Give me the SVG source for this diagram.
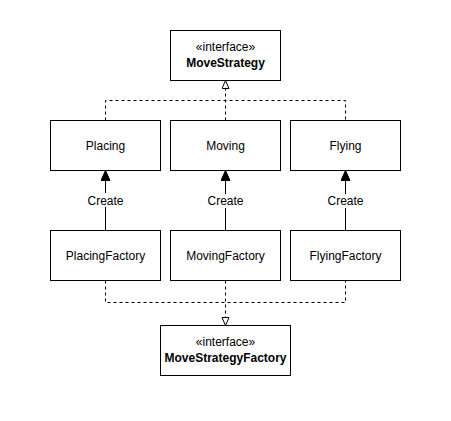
<svg xmlns="http://www.w3.org/2000/svg" width="451" height="421" viewBox="0 0 451 421">
<defs>
<style>
.box{fill:#fff;stroke:#000;stroke-width:1}
.t{font-family:"Liberation Sans",Arial,sans-serif;font-size:12px;fill:#000;text-anchor:middle}
.b{font-weight:bold}
.dash{fill:none;stroke:#000;stroke-width:1;stroke-dasharray:3 3}
.solid{fill:none;stroke:#000;stroke-width:1}
.lbl{fill:#fff}
</style>
<marker id="hollow" markerWidth="10" markerHeight="10" refX="9" refY="4" orient="auto" markerUnits="userSpaceOnUse">
<path d="M1,0.5 L9,4 L1,7.5 Z" fill="#fff" stroke="#000" stroke-width="1"/>
</marker>
<marker id="filled" markerWidth="12" markerHeight="12" refX="10" refY="4.5" orient="auto" markerUnits="userSpaceOnUse">
<path d="M0,0 L10,4.5 L0,9 Z" fill="#000" stroke="#000" stroke-width="1"/>
</marker>
</defs>
<rect width="451" height="421" fill="#fff"/>
<g id="connectors">
<path class="dash" d="M105.5,120.5 V100.5 H345.5 V120.5"/>
<path class="dash" d="M225.5,120.5 V80.5" marker-end="url(#hollow)"/>
<path class="dash" d="M105.5,280.5 V302.5 H345.5 V280.5"/>
<path class="dash" d="M225.5,280.5 V325.5" marker-end="url(#hollow)"/>
<path class="solid" d="M105.5,230.5 V170.5" marker-end="url(#filled)"/>
<path class="solid" d="M225.5,230.5 V170.5" marker-end="url(#filled)"/>
<path class="solid" d="M345.5,230.5 V170.5" marker-end="url(#filled)"/>
<rect class="lbl" x="86" y="193" width="39" height="14"/>
<rect class="lbl" x="206" y="194" width="39" height="14"/>
<rect class="lbl" x="326" y="194" width="39" height="14"/>
<text class="t" x="105.5" y="204.5">Create</text>
<text class="t" x="225.5" y="205">Create</text>
<text class="t" x="345.5" y="205">Create</text>
</g>
<g id="MoveStrategy">
<rect class="box" x="170.5" y="30.5" width="110" height="50"/>
<text class="t" x="225.5" y="51">«interface»</text>
<text class="t b" x="225.5" y="67">MoveStrategy</text>
</g>
<g id="Placing">
<rect class="box" x="50.5" y="120.5" width="110" height="50"/>
<text class="t" x="105.5" y="149.5">Placing</text>
</g>
<g id="Moving">
<rect class="box" x="170.5" y="120.5" width="110" height="50"/>
<text class="t" x="225.5" y="149.5">Moving</text>
</g>
<g id="Flying">
<rect class="box" x="290.5" y="120.5" width="110" height="50"/>
<text class="t" x="345.5" y="149.5">Flying</text>
</g>
<g id="PlacingFactory">
<rect class="box" x="50.5" y="230.5" width="110" height="50"/>
<text class="t" x="105.5" y="259.5">PlacingFactory</text>
</g>
<g id="MovingFactory">
<rect class="box" x="170.5" y="230.5" width="110" height="50"/>
<text class="t" x="225.5" y="259.5">MovingFactory</text>
</g>
<g id="FlyingFactory">
<rect class="box" x="290.5" y="230.5" width="110" height="50"/>
<text class="t" x="345.5" y="259.5">FlyingFactory</text>
</g>
<g id="MoveStrategyFactory">
<rect class="box" x="160.5" y="325.5" width="130" height="50"/>
<text class="t" x="225.5" y="346">«interface»</text>
<text class="t b" x="225.5" y="362">MoveStrategyFactory</text>
</g>
</svg>
